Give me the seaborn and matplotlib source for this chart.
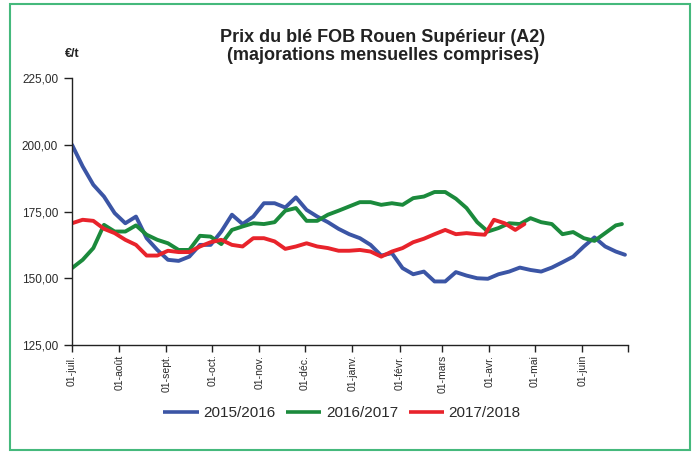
import matplotlib
matplotlib.use("Agg")
import matplotlib.pyplot as plt
import seaborn as sns
import pandas as pd
from matplotlib.patches import Rectangle

# Day of the marketing year (0 = 1 July)
days_1516 = [0, 7, 14, 21, 28, 35, 42, 49, 56, 63, 70, 77, 84, 91, 98, 105, 112, 119, 126,
             133, 140, 147, 154, 161, 168, 175, 182, 189, 196, 203, 210, 217, 224, 231, 238,
             245, 252, 259, 266, 273, 280, 287, 294, 301, 308, 315, 322, 329, 336, 343, 350,
             357, 363]
prix_1516 = [200.0, 191.9, 185.0, 180.6, 174.4, 170.6, 173.1, 165.0, 160.6, 156.9, 156.5,
             158.1, 162.5, 162.5, 167.5, 173.8, 170.3, 173.1, 178.1, 178.1, 176.5, 180.3,
             175.6, 173.1, 171.0, 168.5, 166.5, 165.0, 162.5, 158.5, 159.4, 153.8, 151.5,
             152.5, 148.8, 148.8, 152.3, 151.0, 150.0, 149.8, 151.5, 152.5, 154.0, 153.1,
             152.5, 154.0, 156.0, 158.1, 161.9, 165.3, 161.9, 160.0, 158.8]

days_1617 = [0, 7, 14, 21, 28, 35, 42, 49, 56, 63, 70, 77, 84, 91, 98, 105, 112, 119, 126,
             133, 140, 147, 154, 161, 168, 175, 182, 189, 196, 203, 210, 217, 224, 231, 238,
             245, 252, 259, 266, 273, 280, 287, 294, 301, 308, 315, 322, 329, 336, 343, 350,
             357, 361]
prix_1617 = [153.8, 156.9, 161.3, 170.0, 167.5, 167.5, 169.8, 166.3, 164.4, 163.1, 160.6,
             160.6, 165.9, 165.6, 162.8, 168.1, 169.4, 170.6, 170.3, 171.0, 175.3, 176.3,
             171.5, 171.5, 173.8, 175.3, 176.9, 178.5, 178.5, 177.5, 178.1, 177.5, 180.0,
             180.6, 182.3, 182.3, 179.8, 176.3, 171.0, 167.5, 168.8, 170.6, 170.3, 172.5,
             171.0, 170.3, 166.5, 167.3, 165.0, 164.0, 166.9, 169.8, 170.3]

days_1718 = [0, 7, 14, 21, 28, 35, 42, 49, 56, 63, 70, 77, 84, 91, 98, 105, 112, 119, 126,
             133, 140, 147, 154, 161, 168, 175, 182, 189, 196, 203, 210, 217, 224, 231, 238,
             245, 252, 259, 266, 271, 277, 284, 291, 297]
prix_1718 = [170.6, 171.9, 171.5, 168.5, 166.9, 164.4, 162.5, 158.5, 158.5, 160.3, 159.8,
             159.8, 161.9, 163.5, 164.4, 162.5, 161.9, 165.0, 165.0, 163.8, 161.0, 161.9,
             163.1, 161.9, 161.3, 160.3, 160.3, 160.6, 160.0, 158.1, 160.0, 161.3, 163.5,
             164.8, 166.5, 168.1, 166.5, 166.9, 166.5, 166.3, 171.9, 170.6, 168.1, 170.3]

campagnes = ["2015/2016", "2016/2017", "2017/2018"]
couleurs = ["#3B55A5", "#1B8A3C", "#E8232B"]

mois_pos = [0, 31, 62, 92, 123, 153, 184, 215, 243, 274, 304, 335, 365]
mois_labels = ["01-juil.", "01-août", "01-sept.", "01-oct.", "01-nov.", "01-déc.",
               "01-janv.", "01-févr.", "01-mars", "01-avr.", "01-mai", "01-juin", ""]
y_ticks = [125, 150, 175, 200, 225]
y_labels = ["125,00", "150,00", "175,00", "200,00", "225,00"]

df = pd.concat([
    pd.DataFrame({"jour": d, "prix": p, "campagne": c})
    for d, p, c in zip([days_1516, days_1617, days_1718],
                       [prix_1516, prix_1617, prix_1718], campagnes)
])

sns.set_theme(style="white")
plt.rcParams["font.family"] = ["Liberation Sans", "DejaVu Sans"]

fig = plt.figure(figsize=(6.96, 4.54), dpi=100)
ax = fig.add_axes([72 / 696, 1 - 345 / 454, 556 / 696, 267 / 454])

sns.lineplot(data=df, x="jour", y="prix", hue="campagne", hue_order=campagnes,
             palette=couleurs, linewidth=2.8, ax=ax, sort=False, estimator=None)

ax.set_xlim(0, 365)
ax.set_ylim(125, 225)
ax.set_xticks(mois_pos)
ax.set_xticklabels(mois_labels, rotation=90, fontsize=7.5, color="#2a2a2a")
ax.set_yticks(y_ticks)
ax.set_yticklabels(y_labels, fontsize=8.5, color="#2a2a2a")
ax.set_xlabel("")
ax.set_ylabel("")
for s in ["top", "right"]:
    ax.spines[s].set_visible(False)
for s in ["left", "bottom"]:
    ax.spines[s].set_color("#222222")
    ax.spines[s].set_linewidth(1.0)
ax.tick_params(axis="y", direction="out", length=6, width=1, color="#222222",
               left=True, pad=4)
ax.tick_params(axis="x", direction="out", length=5, width=1, color="#222222",
               bottom=True, pad=2)

leg = ax.legend(loc="center", bbox_to_anchor=(342 / 696, 1 - 413 / 454),
                bbox_transform=fig.transFigure, ncol=3, frameon=False, fontsize=11,
                handlelength=2.3, columnspacing=0.7, handletextpad=0.3)
for line in leg.get_lines():
    line.set_linewidth(2.6)
    line.set_solid_capstyle("butt")
for t in leg.get_texts():
    t.set_color("#2a2a2a")

fig.text(383 / 696, 1 - 37 / 454, "Prix du blé FOB Rouen Supérieur (A2)", ha="center",
         va="center", fontsize=13, fontweight="bold", color="#222222")
fig.text(383 / 696, 1 - 55 / 454, "(majorations mensuelles comprises)", ha="center",
         va="center", fontsize=13, fontweight="bold", color="#222222")
fig.text(72 / 696, 1 - 54 / 454, "€/t", ha="center", va="center", fontsize=9,
         fontweight="bold", color="#222222")

fig.patches.append(Rectangle((10 / 696, 4 / 454), 680 / 696, 446 / 454, fill=False,
                             edgecolor="#45B97C", linewidth=1.5,
                             transform=fig.transFigure, figure=fig))

fig.savefig("out.png", dpi=100)
